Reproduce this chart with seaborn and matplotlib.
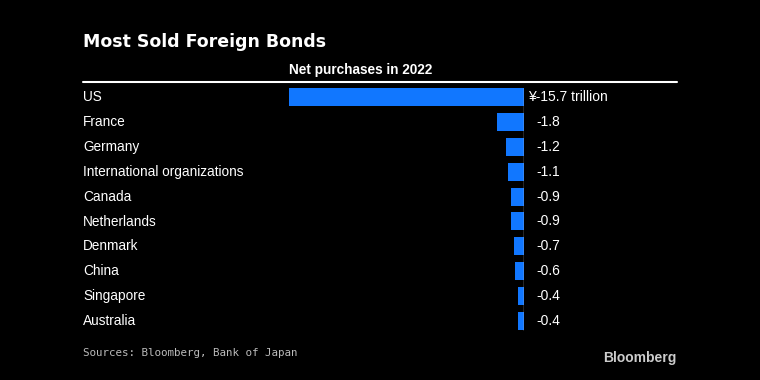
import matplotlib
matplotlib.use("Agg")
import matplotlib.pyplot as plt
import pandas as pd
import seaborn as sns

# data (trillion yen, 2022 net purchases)
countries = ["US", "France", "Germany", "International organizations", "Canada",
             "Netherlands", "Denmark", "China", "Singapore", "Australia"]
values = [-15.7, -1.8, -1.2, -1.1, -0.9, -0.9, -0.7, -0.6, -0.4, -0.4]
value_labels = ["¥-15.7 trillion", "-1.8", "-1.2", "-1.1", "-0.9",
                "-0.9", "-0.7", "-0.6", "-0.4", "-0.4"]

BG = "#000000"
BLUE = "#1177ff"
W, H = 760, 380

sns.set_theme(style="white")
plt.rcParams["font.family"] = ["Liberation Sans", "DejaVu Sans"]

df = pd.DataFrame({"country": countries, "value": values})

fig = plt.figure(figsize=(7.6, 3.8), dpi=100, facecolor=BG)
ax = fig.add_axes([289 / W, 1 - 333.5 / H, (524 - 289) / W, 249 / H])
ax.set_facecolor(BG)

sns.barplot(data=df, x="value", y="country", color=BLUE, width=0.72,
            saturation=1, linewidth=0, ax=ax)
ax.set_xlim(-15.7, 0)
ax.set_ylim(9.5, -0.5)
ax.set_xticks([])
ax.set_yticks([])
ax.set_xlabel("")
ax.set_ylabel("")
for s in ax.spines.values():
    s.set_visible(False)

# zero line
ax.axvline(0, color="#cccccc", lw=1.0, ymin=0.015, ymax=0.985)

# value labels and category labels
for i, (v, lab) in enumerate(zip(values, value_labels)):
    off = 4 if i == 0 else 12
    ax.annotate(lab, xy=(0, i), xytext=(off, 0), textcoords="offset pixels",
                va="center", ha="left", color="white", fontsize=10,
                annotation_clip=False)
for i, c in enumerate(countries):
    ax.text(83 / W, 1 - (97 + i * 24.9) / H, c, transform=fig.transFigure,
            va="center", ha="left", color="white", fontsize=9.8)

fig.text(83 / W, 1 - 42 / H, "Most Sold Foreign Bonds", color="white",
         fontsize=12.5, fontweight="bold", va="center", ha="left",
         family=["DejaVu Sans"])
fig.text(289 / W, 1 - 70 / H, "Net purchases in 2022", color="white",
         fontsize=9.8, fontweight="bold", va="center", ha="left")
fig.add_artist(plt.Line2D([83 / W, 677 / W], [1 - 82 / H, 1 - 82 / H],
                          color="white", lw=1.5, transform=fig.transFigure))
fig.text(83 / W, 1 - 353 / H, "Sources: Bloomberg, Bank of Japan",
         color="#bbbbbb", fontsize=7.8, va="center", ha="left",
         family=["DejaVu Sans Mono"])
fig.text(677 / W, 1 - 358 / H, "Bloomberg", color="#cccccc", fontsize=10,
         fontweight="bold", va="center", ha="right")

fig.savefig("out.png", dpi=100, facecolor=BG)
